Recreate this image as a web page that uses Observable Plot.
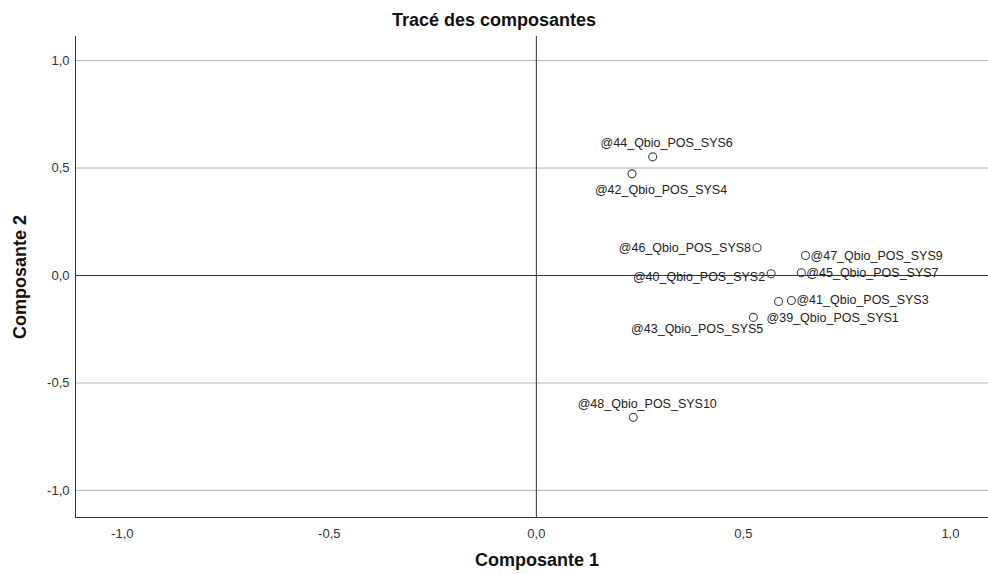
<!DOCTYPE html>
<html>
<head>
<meta charset="utf-8">
<script src="https://cdn.jsdelivr.net/npm/d3@7"></script>
<script src="https://cdn.jsdelivr.net/npm/@observablehq/plot@0.6"></script>
<style>
  html, body { margin: 0; padding: 0; background: #fff; }
  #title { width: 988px; height: 36px; text-align: center; font: bold 18px "Liberation Sans", Arial, sans-serif; line-height: 40px; color: #111; }
</style>
</head>
<body>
<div id="title">Tracé des composantes</div>
<div id="chart"></div>
<script>
// Data: component loadings
const names = ["@39_Qbio_POS_SYS1","@40_Qbio_POS_SYS2","@41_Qbio_POS_SYS3","@42_Qbio_POS_SYS4","@43_Qbio_POS_SYS5",
               "@44_Qbio_POS_SYS6","@45_Qbio_POS_SYS7","@46_Qbio_POS_SYS8","@47_Qbio_POS_SYS9","@48_Qbio_POS_SYS10"];
const comp1 = [0.585, 0.567, 0.616, 0.231, 0.524, 0.281, 0.640, 0.533, 0.650, 0.234];
const comp2 = [-0.121, 0.008, -0.116, 0.473, -0.195, 0.552, 0.013, 0.129, 0.093, -0.660];
const tickValues = [-1, -0.5, 0, 0.5, 1];
const gridValues = [1, 0.5, -0.5, -1];

// Label placement (layout only): [textAnchor, dx, dy]
const labelPlacement = {
  "@39_Qbio_POS_SYS1": ["start", -12, 16],
  "@40_Qbio_POS_SYS2": ["end", -6, 3],
  "@41_Qbio_POS_SYS3": ["start", 5, 0],
  "@42_Qbio_POS_SYS4": ["middle", 29, 16],
  "@43_Qbio_POS_SYS5": ["end", 10, 12],
  "@44_Qbio_POS_SYS6": ["middle", 14, -14],
  "@45_Qbio_POS_SYS7": ["start", 5, 0],
  "@46_Qbio_POS_SYS8": ["end", -6, 0],
  "@47_Qbio_POS_SYS9": ["start", 5, 0],
  "@48_Qbio_POS_SYS10": ["middle", 14, -13]
};

const data = names.map((n, i) => ({name: n, c1: comp1[i], c2: comp2[i]}));
const fmt = d => d3.format(".1f")(d).replace(".", ",").replace("\u2212", "-");

const labelMarks = data.map(d => {
  const [anchor, dx, dy] = labelPlacement[d.name];
  return Plot.text([d], {x: "c1", y: "c2", text: "name", textAnchor: anchor, dx, dy,
    fontSize: 12.5, fill: "#222"});
});

const chart = Plot.plot({
  width: 988,
  height: 538,
  marginTop: 0,
  marginLeft: 75,
  marginRight: 0,
  marginBottom: 57,
  style: {fontFamily: "'Liberation Sans', Arial, sans-serif", fontSize: "13px", background: "#fff", color: "#333"},
  x: {domain: [-1.113, 1.092], ticks: tickValues},
  y: {domain: [-1.126, 1.112], ticks: tickValues},
  marks: [
    Plot.ruleY(gridValues, {stroke: "#b4b4b4", strokeWidth: 1}),
    Plot.ruleY([0], {stroke: "#333", strokeWidth: 1}),
    Plot.ruleX([0], {stroke: "#333", strokeWidth: 1}),
    Plot.frame({anchor: "left", stroke: "#333"}),
    Plot.frame({anchor: "bottom", stroke: "#333"}),
    Plot.axisX(tickValues, {tickSize: 0, tickPadding: 11, tickFormat: fmt, label: null, fontSize: 13}),
    Plot.axisY(tickValues, {tickSize: 0, tickPadding: 6, tickFormat: fmt, label: null, fontSize: 13}),
    Plot.text(["Composante 1"], {frameAnchor: "bottom", dx: 5, dy: 48, fontWeight: "bold", fontSize: 18, fill: "#111"}),
    Plot.text(["Composante 2"], {frameAnchor: "left", textAnchor: "middle", rotate: -90, dx: -55, fontWeight: "bold", fontSize: 18, fill: "#111"}),
    Plot.dot(data, {x: "c1", y: "c2", r: 4, stroke: "#444", fill: "none", strokeWidth: 1.1}),
    ...labelMarks
  ]
});
document.getElementById("chart").appendChild(chart);
</script>
</body>
</html>
